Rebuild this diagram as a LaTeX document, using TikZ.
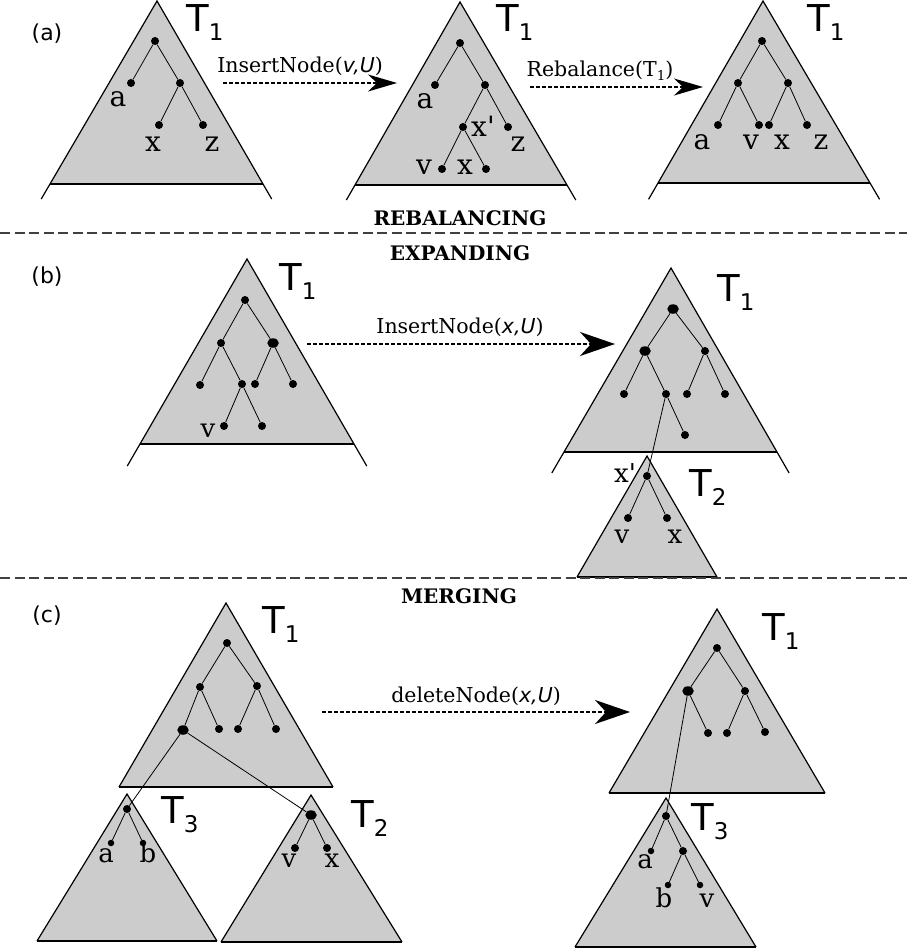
\documentclass[tikz,border=0pt]{standalone}
\usepackage{fontspec}
\setmainfont{DejaVu Serif}
\newfontfamily\sansf{DejaVu Sans}
\usetikzlibrary{calc,arrows.meta,shapes.geometric}
\definecolor{triGray}{RGB}{204,204,204}
\newcommand\tsub[1]{\fontsize{37}{37}\selectfont T\raisebox{-9pt}{\fontsize{23}{23}\selectfont #1}}
\newcommand\drawtri[4]{%
  \fill[triGray] #1 -- #2 -- #3 -- cycle;
  \draw[triline] #2 -- #3;
  \draw[triline] ($#1!#4!#2$) -- #1 -- ($#1!#4!#3$);}
\tikzset{
  triline/.style={line width=1.2pt, line join=miter, line cap=butt},
  dot/.style={circle, fill=black, inner sep=0pt, minimum size=8pt},
  bigdot/.style={ellipse, fill=black, inner sep=0pt, minimum width=11.5pt, minimum height=9.5pt},
  smalldot/.style={circle, fill=black, inner sep=0pt, minimum size=6.5pt},
  tedge/.style={line width=0.8pt},
  lab/.style={anchor=base, inner sep=0pt, font=\fontsize{28}{28}\selectfont},
  labb/.style={anchor=base, inner sep=0pt, font=\fontsize{26}{26}\selectfont},
  op/.style={anchor=base, inner sep=0pt, font=\fontsize{20.5}{20.5}\selectfont},
  hdr/.style={anchor=base, inner sep=0pt, font=\bfseries\fontsize{20}{20}\selectfont},
  tname/.style={anchor=base west, inner sep=0pt, font=\sansf},
  panel/.style={inner sep=0pt, font=\sansf\fontsize{22}{22}\selectfont},
  sep/.style={draw=black!75, line width=1.4pt, dash pattern=on 10pt off 4.5pt},
  flow/.style={line width=1.4pt, dash pattern=on 4pt off 2pt},
  headA/.style={-{Stealth[length=29pt,width=17pt,inset=9pt]}},
  headB/.style={-{Stealth[length=35pt,width=24pt,inset=11pt]}},
}
\begin{document}
\begin{tikzpicture}[x=1pt,y=-1pt]
\useasboundingbox (0,0) rectangle (907,952);

% ---------------- separators and headers
\coordinate (s1l) at (0,233); \coordinate (s1r) at (907,233);
\coordinate (s2l) at (0,578); \coordinate (s2r) at (907,578);

% ---------------- triangles
\drawtri{(157,1)}{(50,184)}{(263,184)}{1.082}
\drawtri{(460,2)}{(355,185)}{(567,185)}{1.082}
\drawtri{(763,1)}{(658,183)}{(870,183)}{1.09}
\drawtri{(247,259)}{(140,444)}{(354,444)}{1.119}
\drawtri{(671,268)}{(564,452)}{(777,452)}{1.114}
\drawtri{(647,456)}{(577,577)}{(717,577)}{1}
\drawtri{(226,603)}{(119,787)}{(333,787)}{1}
\drawtri{(127,794)}{(37,941)}{(217,941)}{1}
\drawtri{(311,795)}{(221,942)}{(402,942)}{1}
\drawtri{(717,609)}{(609,793)}{(825,793)}{1}
\drawtri{(666,798)}{(575,947)}{(756,947)}{1}

\draw[sep] (s1l) -- (s1r);
\draw[sep] (s2l) -- (s2r);
\node[hdr] (hReb) at (460,225) {REBALANCING};
\node[hdr] (hExp) at (460,260) {EXPANDING};
\node[hdr] (hMer) at (459,603) {MERGING};

\node[panel] (pa) at (47,34) {(a)};
\node[panel] (pb) at (47,277) {(b)};
\node[panel] (pc) at (47,616) {(c)};

% ---------------- panel (a), tree 1
\node[dot] (a1r) at (155,41) {};
\node[dot] (a1a) at (131,83) {};
\node[dot] (a1m) at (180,83) {};
\node[dot] (a1x) at (159,125) {};
\node[dot] (a1z) at (203,125) {};
\draw[tedge] (a1r) -- (a1a); \draw[tedge] (a1r) -- (a1m);
\draw[tedge] (a1m) -- (a1x); \draw[tedge] (a1m) -- (a1z);
\node[lab] (la1a) at (118,107) {a};
\node[lab] (la1x) at (153,152) {x};
\node[lab] (la1z) at (212,152) {z};
\node[tname] (ta1) at (186,32) {\tsub{1}};

% ---------------- panel (a), tree 2
\node[dot] (a2r) at (460,43) {};
\node[dot] (a2a) at (435,85) {};
\node[dot] (a2m) at (485,85) {};
\node[dot] (a2xp) at (463,127) {};
\node[dot] (a2z) at (508,127) {};
\node[dot] (a2v) at (442,169) {};
\node[dot] (a2x) at (486,169) {};
\draw[tedge] (a2r) -- (a2a); \draw[tedge] (a2r) -- (a2m);
\draw[tedge] (a2m) -- (a2xp); \draw[tedge] (a2m) -- (a2z);
\draw[tedge] (a2xp) -- (a2v); \draw[tedge] (a2xp) -- (a2x);
\node[lab] (la2a) at (425,109) {a};
\node[lab, anchor=base west] (la2xp) at (471,137) {x\textquotesingle};
\node[lab] (la2z) at (518,152) {z};
\node[lab] (la2v) at (424,175) {v};
\node[lab] (la2x) at (465,175) {x};
\node[tname] (ta2) at (496,32) {\tsub{1}};

% ---------------- panel (a), tree 3
\node[dot] (a3r) at (762,41) {};
\node[dot] (a3l) at (738,83) {};
\node[dot] (a3m) at (788,83) {};
\node[dot] (a3a) at (718,125) {};
\node[dot] (a3v) at (759,125) {};
\node[dot] (a3x) at (769,125) {};
\node[dot] (a3z) at (807,125) {};
\draw[tedge] (a3r) -- (a3l); \draw[tedge] (a3r) -- (a3m);
\draw[tedge] (a3l) -- (a3a); \draw[tedge] (a3l) -- (a3v);
\draw[tedge] (a3m) -- (a3x); \draw[tedge] (a3m) -- (a3z);
\node[lab] (la3a) at (702,150) {a};
\node[lab] (la3v) at (751,150) {v};
\node[lab] (la3x) at (782,150) {x};
\node[lab] (la3z) at (821,150) {z};
\node[tname] (ta3) at (807,32) {\tsub{1}};

% ---------------- panel (a) arrows
\coordinate (f1s) at (223,83); \coordinate (f1e) at (397,83);
\draw[flow, headA] (f1s) -- (f1e);
\node[op] (o1) at (300,73) {InsertNode({\sansf\itshape v,U})};
\coordinate (f2s) at (530,87); \coordinate (f2e) at (703,87);
\draw[flow, headA] (f2s) -- (f2e);
\node[op] (o2) at (600,77) {Rebalance(T\raisebox{-3.5pt}{\fontsize{13.5}{13.5}\selectfont 1})};

% ---------------- panel (b), left tree
\node[dot] (b1r) at (245,300) {};
\node[dot] (b1l) at (221,343) {};
\node[bigdot] (b1m) at (273,343) {};
\node[dot] (b1ll) at (200,385) {};
\node[dot] (b1lr) at (242,384) {};
\node[dot] (b1rl) at (255,384) {};
\node[dot] (b1rr) at (293,384) {};
\node[dot] (b1v) at (224,426) {};
\node[dot] (b1w) at (262,426) {};
\draw[tedge] (b1r) -- (b1l); \draw[tedge] (b1r) -- (b1m);
\draw[tedge] (b1l) -- (b1ll); \draw[tedge] (b1l) -- (b1lr);
\draw[tedge] (b1m) -- (b1rl); \draw[tedge] (b1m) -- (b1rr);
\draw[tedge] (b1lr) -- (b1v); \draw[tedge] (b1lr) -- (b1w);
\node[labb] (lb1v) at (208,437) {v};
\node[tname] (tb1) at (279,290) {\tsub{1}};

% ---------------- panel (b) arrow
\coordinate (f3s) at (307,344); \coordinate (f3e) at (615,344);
\draw[flow, headB] (f3s) -- (f3e);
\node[op] (o3) at (460,333) {InsertNode({\sansf\itshape x,U})};

% ---------------- panel (b), right tree
\node[bigdot] (b2r) at (673,309) {};
\node[bigdot] (b2l) at (645,351) {};
\node[dot] (b2m) at (705,351) {};
\node[dot] (b2ll) at (624,394) {};
\node[dot] (b2lr) at (666,394) {};
\node[dot] (b2rl) at (687,394) {};
\node[dot] (b2rr) at (725,394) {};
\node[dot] (b2lrr) at (685,435) {};
\node[dot] (b3xp) at (647,476) {};
\node[dot] (b3v) at (628,518) {};
\node[dot] (b3x) at (667,518) {};
\draw[tedge] (b2r) -- (b2l); \draw[tedge] (b2r) -- (b2m);
\draw[tedge] (b2l) -- (b2ll); \draw[tedge] (b2l) -- (b2lr);
\draw[tedge] (b2m) -- (b2rl); \draw[tedge] (b2m) -- (b2rr);
\draw[tedge] (b2lr) -- (b2lrr); \draw[tedge] (b2lr) -- (b3xp);
\draw[tedge] (b3xp) -- (b3v); \draw[tedge] (b3xp) -- (b3x);
\node[labb, anchor=base west] (lb3xp) at (614,482) {x\textquotesingle};
\node[labb] (lb3v) at (622,543) {v};
\node[labb] (lb3x) at (675,543) {x};
\node[tname] (tb2) at (717,301) {\tsub{1}};
\node[tname] (tb3) at (689,496) {\tsub{2}};

% ---------------- panel (c), left trees
\node[dot] (c1r) at (227,643) {};
\node[dot] (c1l) at (200,687) {};
\node[dot] (c1m) at (257,686) {};
\node[bigdot] (c1ll) at (183,730) {};
\node[dot] (c1lr) at (219,729) {};
\node[dot] (c1rl) at (238,729) {};
\node[dot] (c1rr) at (276,729) {};
\node[dot] (c2r) at (127,809) {};
\node[smalldot] (c2a) at (111,843) {};
\node[smalldot] (c2b) at (143,843) {};
\node[bigdot] (c3r) at (311,815) {};
\node[dot] (c3v) at (295,848) {};
\node[dot] (c3x) at (327,848) {};
\draw[tedge] (c1r) -- (c1l); \draw[tedge] (c1r) -- (c1m);
\draw[tedge] (c1l) -- (c1ll); \draw[tedge] (c1l) -- (c1lr);
\draw[tedge] (c1m) -- (c1rl); \draw[tedge] (c1m) -- (c1rr);
\draw[tedge] (c1ll) -- (c2r); \draw[tedge] (c1ll) -- (c3r);
\draw[tedge] (c2r) -- (c2a); \draw[tedge] (c2r) -- (c2b);
\draw[tedge] (c3r) -- (c3v); \draw[tedge] (c3r) -- (c3x);
\node[labb] (lc2a) at (106,862) {a};
\node[labb] (lc2b) at (148,862) {b};
\node[labb] (lc3v) at (289,867) {v};
\node[labb] (lc3x) at (332,867) {x};
\node[tname] (tc1) at (262,633) {\tsub{1}};
\node[tname] (tc2) at (161,823) {\tsub{3}};
\node[tname] (tc3) at (351,827) {\tsub{2}};

% ---------------- panel (c) arrow
\coordinate (f4s) at (322,712); \coordinate (f4e) at (630,712);
\draw[flow, headB] (f4s) -- (f4e);
\node[op] (o4) at (476,702) {deleteNode({\sansf\itshape x,U})};

% ---------------- panel (c), right trees
\node[dot] (c4r) at (717,648) {};
\node[bigdot] (c4l) at (688,691) {};
\node[dot] (c4m) at (745,691) {};
\node[dot] (c4lr) at (708,733) {};
\node[dot] (c4rl) at (727,733) {};
\node[dot] (c4rr) at (765,732) {};
\node[dot] (c5r) at (666,816) {};
\node[smalldot] (c5a) at (651,851) {};
\node[dot] (c5m) at (683,851) {};
\node[smalldot] (c5b) at (668,885) {};
\node[smalldot] (c5v) at (700,885) {};
\draw[tedge] (c4r) -- (c4l); \draw[tedge] (c4r) -- (c4m);
\draw[tedge] (c4l) -- (c4lr); \draw[tedge] (c4l) -- (c5r);
\draw[tedge] (c4m) -- (c4rl); \draw[tedge] (c4m) -- (c4rr);
\draw[tedge] (c5r) -- (c5a); \draw[tedge] (c5r) -- (c5m);
\draw[tedge] (c5m) -- (c5b); \draw[tedge] (c5m) -- (c5v);
\node[labb] (lc5a) at (645,868) {a};
\node[labb] (lc5b) at (664,907) {b};
\node[labb] (lc5v) at (707,907) {v};
\node[tname] (tc4) at (762,640) {\tsub{1}};
\node[tname] (tc5) at (691,830) {\tsub{3}};
\end{tikzpicture}
\end{document}
